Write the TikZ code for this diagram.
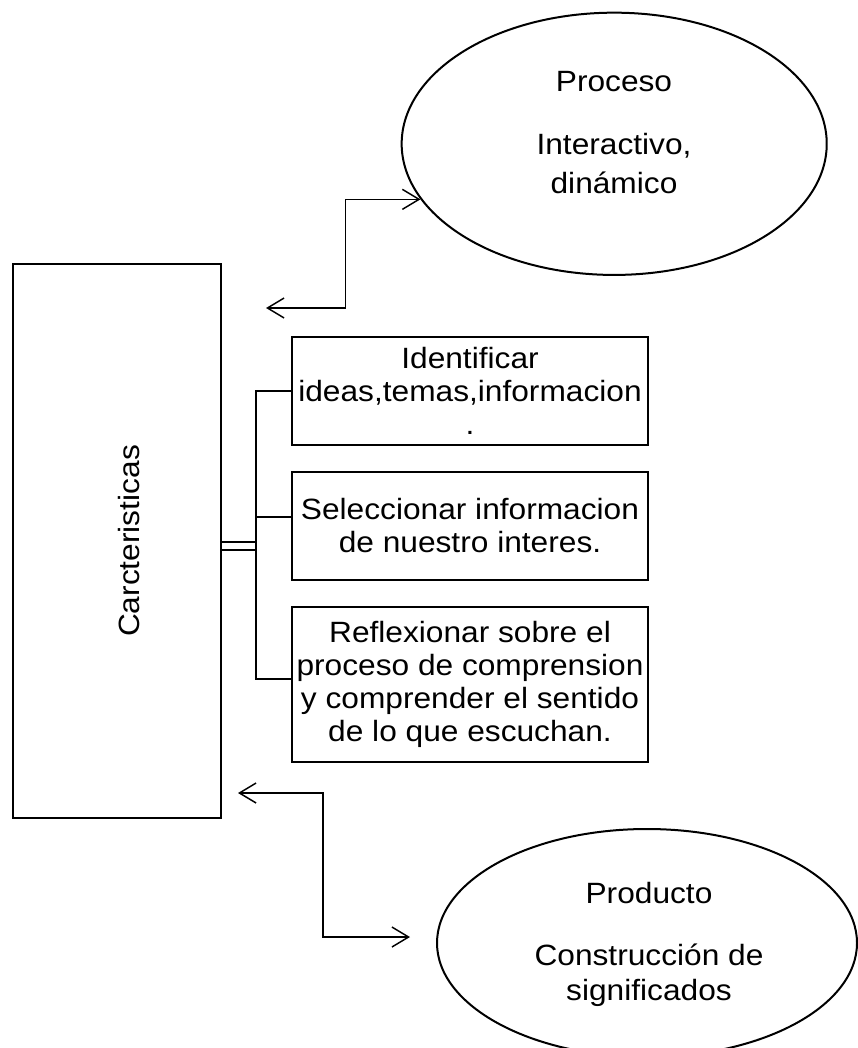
\documentclass[tikz,border=0pt]{standalone}
\usepackage{fontspec}
\setmainfont{Liberation Sans}[FakeStretch=1.08]
\usetikzlibrary{arrows.meta,shapes.geometric}
\newcommand{\fuente}{\fontsize{22}{24.6}\selectfont}
\tikzset{
	caja/.style={draw, line width=1.5pt, minimum width=267.5pt, inner sep=0pt, align=center, font=\fuente},
	elipse/.style={draw, ellipse, line width=1.5pt, inner sep=0pt},
	texto/.style={anchor=base, font=\fuente},
	linea/.style={line width=1.5pt},
	doble/.style={line width=1.4pt, double distance=4.8pt},
	flecha/.style={line width=1.1pt, {Straight Barb[length=12.5pt,width=15pt]}-{Straight Barb[length=12.5pt,width=15pt]}}
}

\begin{document}
\begin{tikzpicture}[x=0.75pt, y=-0.75pt]
		%%%%% START %%%%%
		\useasboundingbox (0,0) rectangle (857,1048);
		
		\node[caja, minimum width=155.8pt, minimum height=415.5pt] (carac) at (117.2,541) {};
		\node[rotate=90, font=\fuente] (tcarac) at (129,541) {Carcteristicas};
		
		\node[caja, minimum height=81.2pt] (c1) at (470,390.9) {Identificar\\ideas,temas,informacion\\.};
		\node[caja, minimum height=81.2pt] (c2) at (470,525.9) {Seleccionar informacion\\de nuestro interes.};
		\node[caja, minimum height=116pt] (c3) at (470,684.4) {Reflexionar sobre el\\proceso de comprension\\y comprender el sentido\\de lo que escuchan.};
		
		\node[elipse, minimum width=318.8pt, minimum height=196.7pt] (proceso) at (614.2,143.8) {};
		\node[texto] (tp1) at (614,91.7) {Proceso};
		\node[texto] (tp2) at (614,155) {Interactivo,};
		\node[texto] (tp3) at (614,193.3) {dinámico};
		
		\node[elipse, minimum width=315pt, minimum height=171pt] (producto) at (647,943) {};
		\node[texto] (tq1) at (649,903.3) {Producto};
		\node[texto] (tq2) at (649,965) {Construcción de};
		\node[texto] (tq3) at (649,1000.5) {significados};
		
		% ramas hacia las cajas
		\coordinate (bus) at (256.7,546);
		\draw[doble] (carac.east |- bus) -- (bus);
		\draw[linea] (c1.west) -- ++(-35,0) |- ([yshift=4pt]c3.west);
		\draw[linea] ([yshift=6.75pt]c2.west) -- ++(-35,0);
		
		% flechas
		\coordinate (a1) at (266,308);
		\draw[flecha] (a1) -- ++(79.5,0) |- (proceso.196);
		\coordinate (b1) at (238,793);
		\coordinate (b2) at (410,937);
		\draw[flecha] (b1) -- ++(85,0) |- (b2);
		
		%%%%% END %%%%%
\end{tikzpicture}
\end{document}
